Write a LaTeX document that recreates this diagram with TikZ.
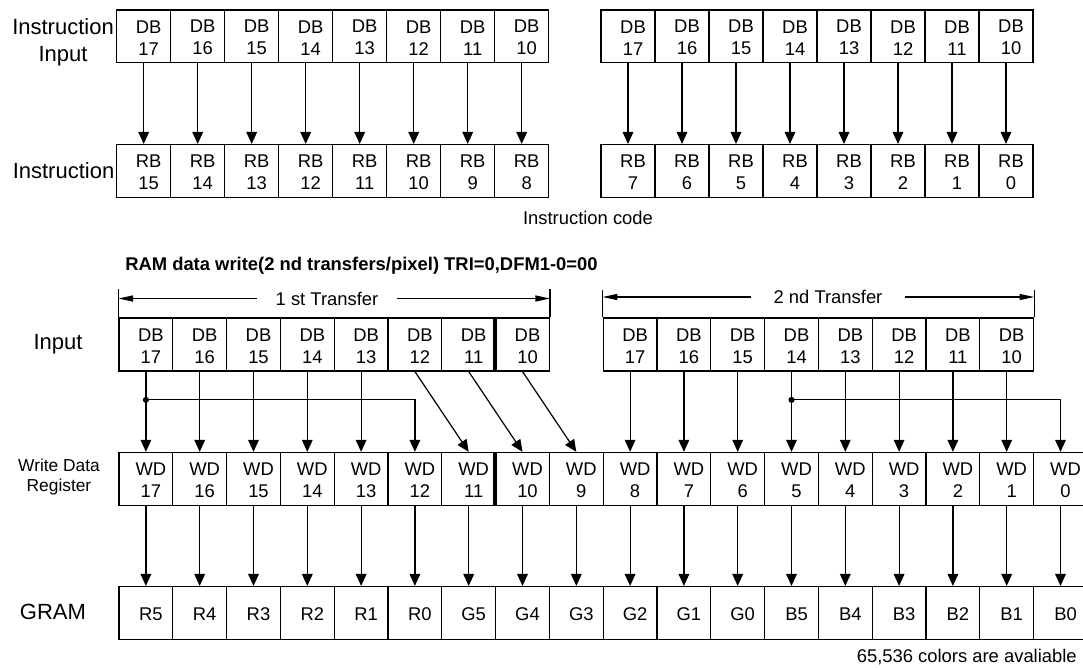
\documentclass[tikz,border=0pt]{standalone}
\usepackage{fontspec}
\setmainfont{Liberation Sans}
\usetikzlibrary{arrows.meta}

\begin{document}
\begin{tikzpicture}[x=0.75pt,y=-0.75pt,
  cell/.style={draw,line width=0.9pt,minimum width=40.4pt,minimum height=39.7pt,inner sep=0pt},
  bits/.style={align=center,inner sep=0pt,xshift=3.75pt,yshift=-1pt,font=\fontsize{13.8}{16.5}\selectfont},
  side/.style={align=center,inner sep=0pt,font=\fontsize{16.5}{20.3}\selectfont},
  note/.style={inner sep=0pt,font=\fontsize{13.8}{16.5}\selectfont},
  heading/.style={inner sep=0pt,font=\fontsize{13.8}{16.5}\selectfont\bfseries},
  wire/.style={line width=0.9pt,-{Triangle[length=9pt,width=8pt]}},
  span/.style={line width=0.9pt,-{Triangle[length=11pt,width=4.5pt]}},
  bar/.style={line width=0.9pt},
  heavy/.style={line width=2.5pt}]

\useasboundingbox (0,0) rectangle (1083,668);
\clip (0,0) rectangle (1083,668);

\node[side] (lblii) at (63,42.3) {Instruction\\Input};
\node[side] (lblin) at (63.5,170.7) {Instruction};
\node[side] (lblinput) at (58,344) {Input};
\node[note,align=center,font=\fontsize{13}{14.8}\selectfont] (lblwdr) at (59,477) {Write Data\\Register};
\node[side] (lblgram) at (53,612) {GRAM};

\foreach \g/\xa in {0/143.7,1/628}{
  \foreach \b [count=\k from 0] in {17,16,...,10}{
    \pgfmathtruncatemacro\n{8*\g+\k}
    \pgfmathtruncatemacro\r{15-\n}
    \node[cell] (ti\n) at (\xa+54*\k,36.4) {};
    \node[bits] (tit\n) at (ti\n) {DB\\\b};
    \node[cell] (tr\n) at (\xa+54*\k,171) {};
    \node[bits] (trt\n) at (tr\n) {RB\\\r};
    \draw[wire] (ti\n) -- (tr\n);
  }
}
\node[note] (code) at (588,218) {Instruction code};

\node[heading,anchor=west] (title) at (125,266) {RAM data write(2 nd transfers/pixel) TRI=0,DFM1-0=00};

\foreach \b [count=\k from 0] in {17,16,...,10}{
  \pgfmathtruncatemacro\m{\k+9}
  \node[cell,minimum width=40.35pt] (in\k) at (145.9+53.8*\k,344.5) {};
  \node[bits] (int\k) at (in\k) {DB\\\b};
  \node[cell,minimum width=40.35pt] (in\m) at (145.9+53.8*\m,344.5) {};
  \node[bits] (int\m) at (in\m) {DB\\\b};
}

\foreach \p [count=\c from 0] in {R5,R4,R3,R2,R1,R0,G5,G4,G3,G2,G1,G0,B5,B4,B3,B2,B1,B0}{
  \pgfmathtruncatemacro\w{17-\c}
  \node[cell,minimum width=40.35pt] (wd\c) at (145.9+53.8*\c,478.9) {};
  \node[bits] (wdt\c) at (wd\c) {WD\\\w};
  \node[cell,minimum width=40.35pt] (gr\c) at (145.9+53.8*\c,613) {};
  \node[bits] (grt\c) at (gr\c) {\p};
  \draw[wire] (wd\c) -- (gr\c);
}

\draw[heavy] (in7.north west) -- (in7.south west);
\draw[heavy] (wd7.north west) -- (wd7.south west);

\foreach \c in {0,1,2,3,4,9,10,11,12,13,14,15,16}
  \draw[wire] (in\c) -- (wd\c);
\foreach \c/\d in {5/6,6/7,7/8}
  \draw[wire] (in\c.south) -- (wd\d.north);

\path (in0.south) ++(0,28.3) coordinate (tapa);
\path (in12.south) ++(0,28.3) coordinate (tapb);
\draw[wire] (tapa) -| (wd5.north);
\draw[wire] (tapb) -| (wd17.north);
\fill (tapa) circle[radius=2.3pt];
\fill (tapb) circle[radius=2.3pt];

\node[note,inner xsep=14pt] (first) at (327,298.5) {1 st Transfer};
\draw[bar] (in0.north west) -- ++(0,-28);
\draw[bar] (in7.north east) -- ++(0,-28);
\draw[span] (first.west) -- (first.west -| in0.north west);
\draw[span] (first.east) -- (first.east -| in7.north east);

\node[note,inner xsep=17pt] (second) at (828,297) {2 nd Transfer};
\draw[bar] (in9.north west) -- ++(0,-27);
\draw[bar] (in16.north east) -- ++(0,-27);
\draw[span] (second.west) -- (second.west -| in9.north west);
\draw[span] (second.east) -- (second.east -| in16.north east);

\node[note,anchor=east] (avail) at (1077,657) {65,536 colors are avaliable};
\end{tikzpicture}
\end{document}
